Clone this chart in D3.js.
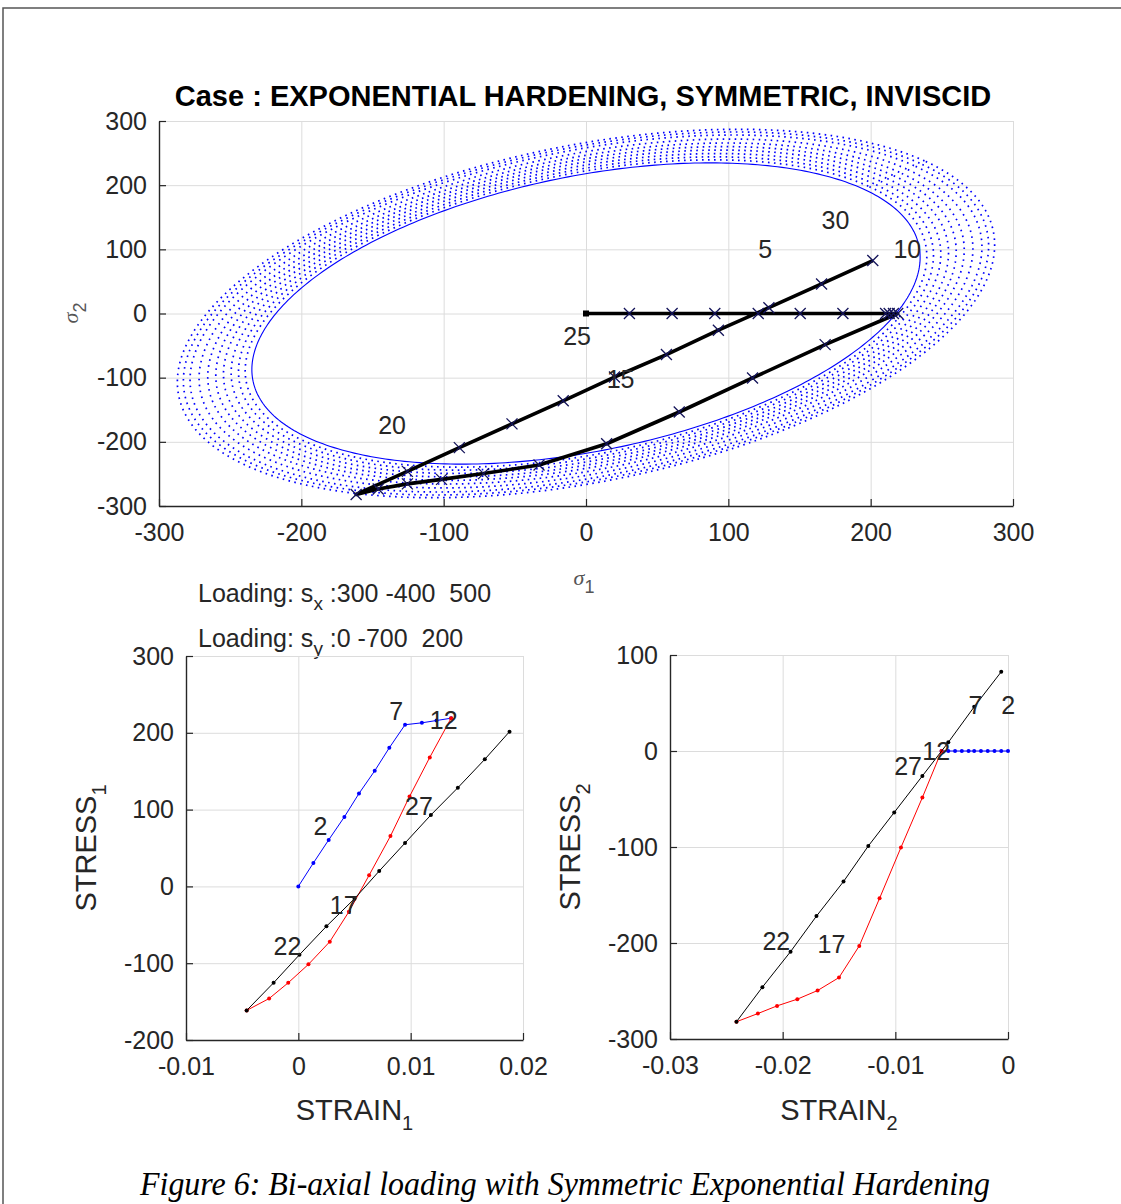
<!DOCTYPE html>
<html>
<head>
<meta charset="utf-8">
<script src="https://cdn.jsdelivr.net/npm/d3@7"></script>
<style>
  body { margin: 0; background: #fff; }
  svg text { font-family: "Liberation Sans", Arial, sans-serif; fill: #262626; white-space: pre; }
</style>
</head>
<body>
<svg id="fig" width="1121" height="1204"></svg>
<script>
// stress / strain state at each of the 31 load steps
// steps 1-11: blue, 11-21: red, 21-31: black
var sig1 = [0, 30.5, 60.5, 90.5, 121, 150.5, 180.5, 210.5, 213, 216, 219,
            168, 117, 65.5, 14.5, -33, -72, -101.5, -125.5, -146, -161.5,
            -125.5, -89, -52, -16, 20, 56.5, 93, 128.5, 165.5, 201.5];
var sig2 = [0, 0, 0, 0, 0, 0, 0, 0, 0, 0, 0,
            -48.5, -100.5, -153.5, -203, -236, -249.5, -258.5, -265.5, -273.5, -282,
            -246, -209, -172, -136, -99, -64, -26, 9, 46, 82.5];
var eps1 = [0, 0.00134, 0.0027, 0.0041, 0.0054, 0.0068, 0.0081, 0.0095, 0.011, 0.0123, 0.0136,
            0.0117, 0.0099, 0.0082, 0.0063, 0.0045, 0.0028, 0.0009, -0.0009, -0.0026, -0.0046,
            -0.0022, 0.0001, 0.0025, 0.005, 0.0072, 0.0095, 0.0118, 0.0142, 0.0166, 0.0188];
var eps2 = [0, -0.0006, -0.0012, -0.0018, -0.0024, -0.003, -0.0035, -0.0041, -0.0047, -0.0053, -0.0059,
            -0.0076, -0.0095, -0.0114, -0.0132, -0.015, -0.0169, -0.0187, -0.0205, -0.0222, -0.0241,
            -0.0218, -0.0193, -0.017, -0.0146, -0.0124, -0.0101, -0.0076, -0.0053, -0.003, -0.0006];

var segments = [[0, 10], [10, 20], [20, 30]];
var segColors = ["#0000ff", "#ff0000", "#000000"];

var topLabelSteps = [5, 10, 15, 20, 25, 30];
var lowLabelSteps = [2, 7, 12, 17, 22, 27];

// yield surfaces: base ellipse semi axes (along s1=s2 and s1=-s2) and growth of each drawn surface
var yieldU = 275, yieldV = 186;
var ringScale = [1.0, 1.02, 1.04, 1.062, 1.085, 1.108, 1.132, 1.158, 1.185, 1.205, 1.223];

var topTicks = [-300, -200, -100, 0, 100, 200, 300];
var blXTicks = [-0.01, 0, 0.01, 0.02];
var blYTicks = [-200, -100, 0, 100, 200, 300];
var brXTicks = [-0.03, -0.02, -0.01, 0];
var brYTicks = [-300, -200, -100, 0, 100];

var titleText = "Case : EXPONENTIAL HARDENING, SYMMETRIC, INVISCID";
var loadX = ":300 -400  500", loadY = ":0 -700  200";
var caption = "Figure 6: Bi-axial loading with Symmetric Exponential Hardening";

var svg = d3.select("#fig");

// frame
svg.append("path").attr("d", "M3,1204V8H1121").attr("fill", "none")
  .attr("stroke", "#555").attr("stroke-width", 1.5);

/**
 * Draws the light grid of one panel (edges included)
 */
function drawAxes(g, x, y, xt, yt) {
  var x0 = x.range()[0], x1 = x.range()[1], y0 = y.range()[0], y1 = y.range()[1];
  g.append("g").attr("transform", "translate(0," + y0 + ")")
    .call(d3.axisBottom(x).tickValues(xt).tickSize(-(y0 - y1)).tickFormat(""))
    .call(function(s) {
      s.select(".domain").remove();
      s.selectAll("line").attr("stroke", "#dcdcdc");
    });
  g.append("g").attr("transform", "translate(" + x0 + ",0)")
    .call(d3.axisLeft(y).tickValues(yt).tickSize(-(x1 - x0)).tickFormat(""))
    .call(function(s) {
      s.select(".domain").remove();
      s.selectAll("line").attr("stroke", "#dcdcdc");
    });
  return g;
}
/** Left and bottom axis lines with inward ticks and labels */
function drawTicks(g, x, y, xt, yt) {
  var x0 = x.range()[0], y0 = y.range()[0];
  var ax = g.append("g").attr("transform", "translate(0," + y0 + ")")
    .call(d3.axisBottom(x).tickValues(xt).tickSize(-7).tickSizeOuter(0).tickPadding(17).tickFormat(String));
  var ay = g.append("g").attr("transform", "translate(" + x0 + ",0)")
    .call(d3.axisLeft(y).tickValues(yt).tickSize(-7).tickSizeOuter(0).tickPadding(12).tickFormat(String));
  [ax, ay].forEach(function(a) {
    a.attr("font-size", null).attr("font-family", null);
    a.select(".domain").attr("stroke", "#262626").attr("stroke-width", 1.4);
    a.selectAll(".tick line").attr("stroke", "#262626").attr("stroke-width", 1.2);
    a.selectAll(".tick text").attr("font-size", 25).attr("fill", "#262626");
  });
}

// ---------- top panel: stress space ----------
var xT = d3.scaleLinear().domain([-300, 300]).range([159, 1013]);
var yT = d3.scaleLinear().domain([-300, 300]).range([506, 121]);
var gT = svg.append("g");
drawAxes(gT, xT, yT, topTicks, topTicks);

var ringLine = d3.line().x(function(d) { return xT(d[0]); }).y(function(d) { return yT(d[1]); });
ringScale.forEach(function(s, i) {
  var pts = d3.range(0, 361).map(function(a) {
    var t = a * Math.PI / 180,
        u = yieldU * s * Math.cos(t), v = yieldV * s * Math.sin(t);
    return [(u - v) / Math.SQRT2, (u + v) / Math.SQRT2];
  });
  gT.append("path").attr("d", ringLine(pts)).attr("fill", "none")
    .attr("stroke", "#0000ff")
    .attr("stroke-width", i == 0 ? 1.1 : 1.7)
    .attr("stroke-dasharray", i == 0 ? null : "1.6 4.4");
});

var pathPts = sig1.map(function(d, i) { return [d, sig2[i]]; });
gT.append("path").attr("d", ringLine(pathPts)).attr("fill", "none")
  .attr("stroke", "#000").attr("stroke-width", 3.6).attr("stroke-linejoin", "round");
gT.selectAll(".xm").data(pathPts.slice(1)).enter().append("path")
  .attr("transform", function(d) { return "translate(" + xT(d[0]) + "," + yT(d[1]) + ")"; })
  .attr("d", "M-5.5,-5.5L5.5,5.5M-5.5,5.5L5.5,-5.5")
  .attr("stroke", "#14145a").attr("stroke-width", 1.3);
gT.append("rect").attr("x", xT(sig1[0]) - 3).attr("y", yT(sig2[0]) - 3)
  .attr("width", 6).attr("height", 6).attr("fill", "#000");

gT.selectAll(".lab").data(topLabelSteps).enter().append("text")
  .attr("x", function(n) { return xT(sig1[n - 1]); })
  .attr("y", function(n) { return yT(sig2[n - 1] + 100); })
  .attr("dy", "0.35em").attr("font-size", 25)
  .text(function(n) { return n; });

drawTicks(gT, xT, yT, topTicks, topTicks);

gT.append("text").attr("x", 583).attr("y", 106).attr("text-anchor", "middle")
  .attr("font-size", 29).attr("font-weight", "bold").style("fill", "#000")
  .text(titleText);

var s1 = gT.append("text").attr("x", 584).attr("y", 585).attr("text-anchor", "middle")
  .attr("font-size", 22).style("fill", "#555");
s1.append("tspan").attr("font-family", "Liberation Serif").attr("font-style", "italic").text("σ");
s1.append("tspan").attr("dy", 8).attr("font-size", 18).text("1");
var s2 = gT.append("text").attr("transform", "translate(78,313) rotate(-90)")
  .attr("text-anchor", "middle").attr("font-size", 22).style("fill", "#555");
s2.append("tspan").attr("font-family", "Liberation Serif").attr("font-style", "italic").text("σ");
s2.append("tspan").attr("dy", 8).attr("font-size", 18).text("2");

// loading annotation
[["x", loadX, 602], ["y", loadY, 647]].forEach(function(r) {
  var t = svg.append("text").attr("x", 198).attr("y", r[2]).attr("font-size", 25);
  t.append("tspan").text("Loading: s");
  t.append("tspan").attr("dy", 8).attr("font-size", 19).text(r[0]);
  t.append("tspan").attr("dy", -8).text(" " + r[1]);
});

// ---------- lower panels: stress vs strain ----------
function strainPanel(x, y, xt, yt, eps, sig, xlab, ylab, ylabX) {
  var g = svg.append("g");
  drawAxes(g, x, y, xt, yt);
  var line = d3.line().x(function(i) { return x(eps[i]); }).y(function(i) { return y(sig[i]); });
  segments.forEach(function(sg, k) {
    var idx = d3.range(sg[0], sg[1] + 1);
    g.append("path").attr("d", line(idx)).attr("fill", "none")
      .attr("stroke", segColors[k]).attr("stroke-width", 1);
    g.selectAll(".dot" + k).data(idx).enter().append("circle")
      .attr("cx", function(i) { return x(eps[i]); })
      .attr("cy", function(i) { return y(sig[i]); })
      .attr("r", 2).attr("fill", segColors[k]);
  });
  g.selectAll(".lab").data(lowLabelSteps).enter().append("text")
    .attr("x", function(n) { return x(eps[n - 1]); })
    .attr("y", function(n) { return y(sig[n - 1] + 48); })
    .attr("dy", "0.35em").attr("font-size", 25)
    .text(function(n) { return n; });
  drawTicks(g, x, y, xt, yt);
  var cx = (x.range()[0] + x.range()[1]) / 2, cy = (y.range()[0] + y.range()[1]) / 2;
  var xl = g.append("text").attr("x", cx).attr("y", 1120).attr("text-anchor", "middle").attr("font-size", 29);
  xl.append("tspan").text(xlab[0]);
  xl.append("tspan").attr("dy", 10).attr("font-size", 20).text(xlab[1]);
  var yl = g.append("text").attr("transform", "translate(" + ylabX + "," + cy + ") rotate(-90)")
    .attr("text-anchor", "middle").attr("font-size", 29);
  yl.append("tspan").text(ylab[0]);
  yl.append("tspan").attr("dy", 10).attr("font-size", 20).text(ylab[1]);
}

strainPanel(d3.scaleLinear().domain([-0.01, 0.02]).range([186, 523]),
            d3.scaleLinear().domain([-200, 300]).range([1040, 656]),
            blXTicks, blYTicks, eps1, sig1, ["STRAIN", "1"], ["STRESS", "1"], 96);
strainPanel(d3.scaleLinear().domain([-0.03, 0]).range([670, 1008]),
            d3.scaleLinear().domain([-300, 100]).range([1039, 655]),
            brXTicks, brYTicks, eps2, sig2, ["STRAIN", "2"], ["STRESS", "2"], 580);

svg.append("text").attr("x", 565).attr("y", 1195).attr("text-anchor", "middle")
  .attr("font-style", "italic").attr("font-size", 34)
  .attr("textLength", 850).attr("lengthAdjust", "spacingAndGlyphs")
  .style("font-family", "'Liberation Serif', serif").style("fill", "#000")
  .text(caption);
</script>
</body>
</html>
